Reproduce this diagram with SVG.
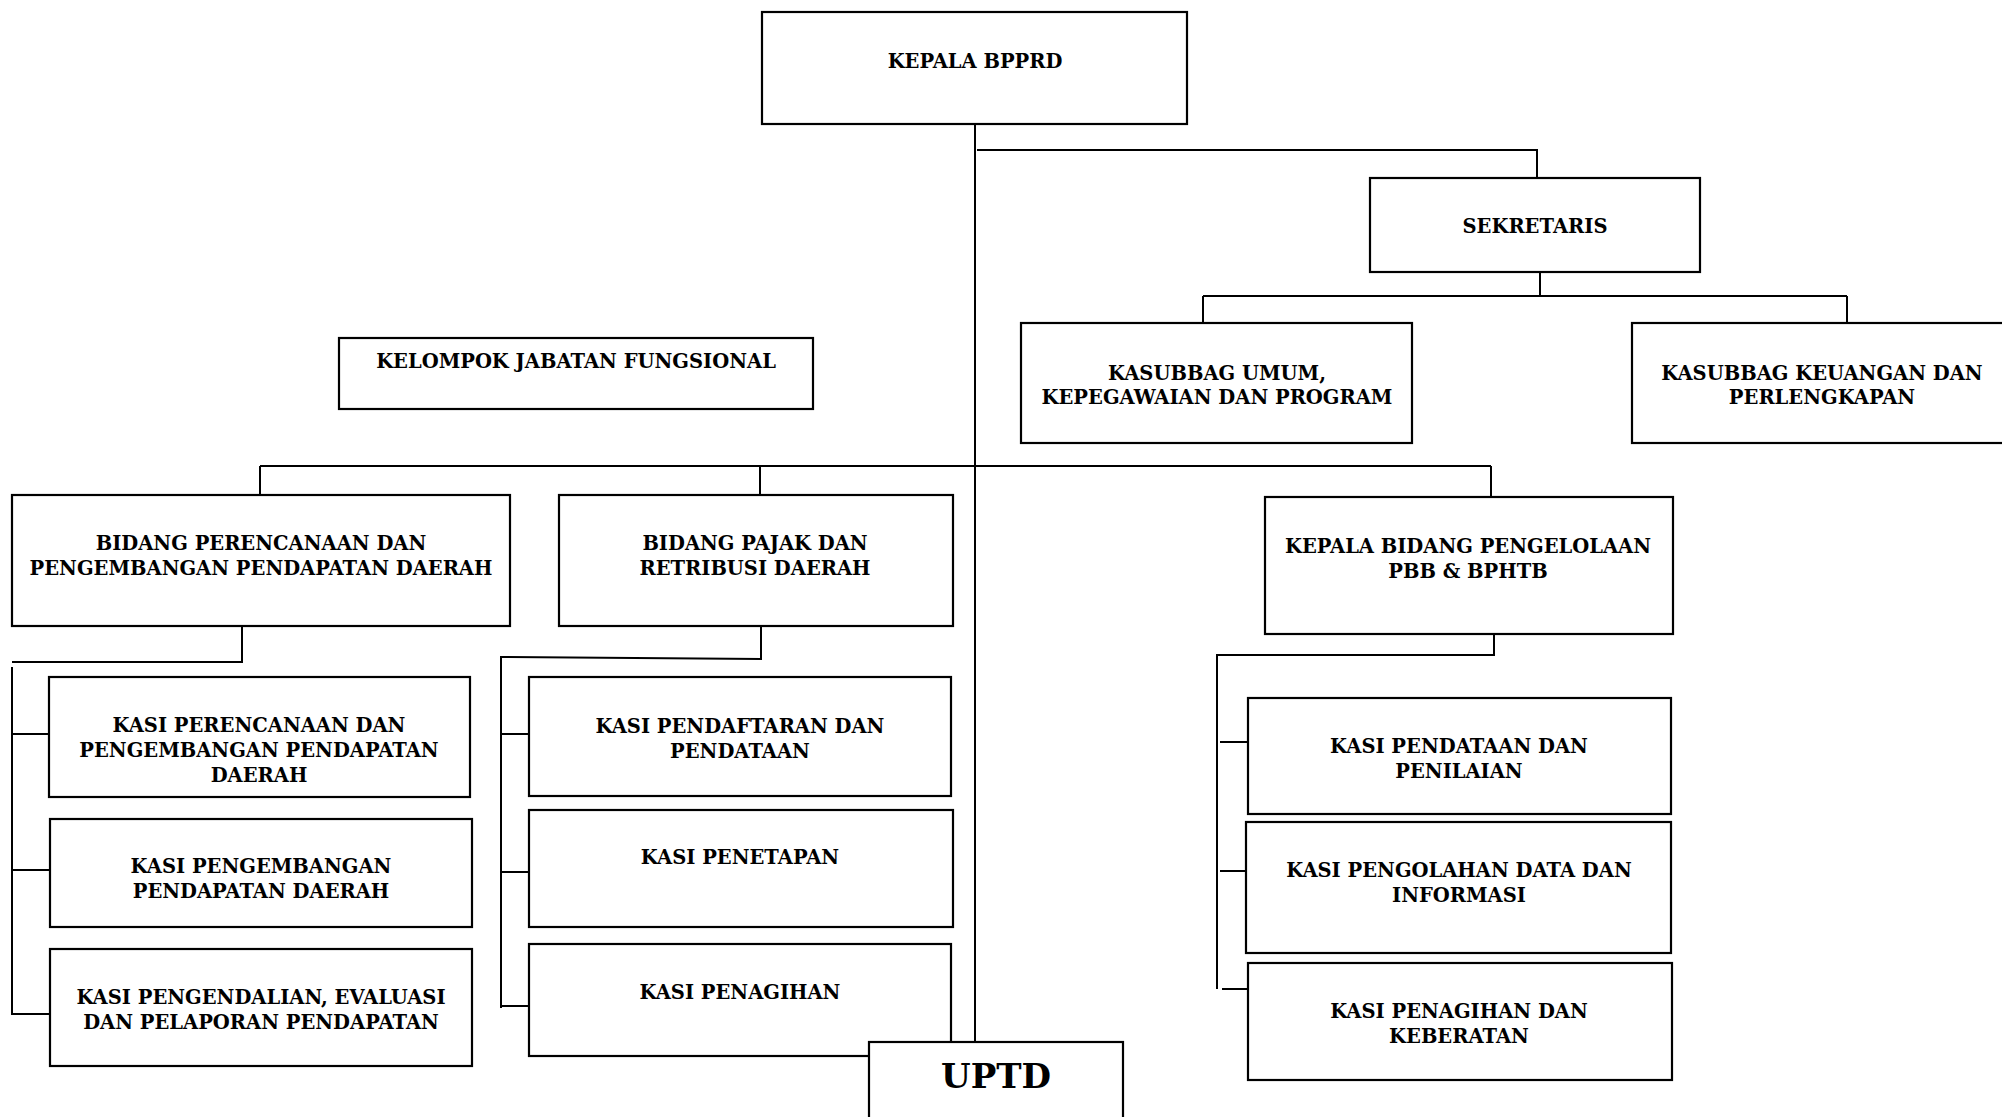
<svg xmlns="http://www.w3.org/2000/svg" width="2002" height="1117" viewBox="0 0 2002 1117">
<style>
  .box { fill: #ffffff; stroke: #000000; stroke-width: 2.2; }
  .ln { fill: none; stroke: #000000; stroke-width: 2; }
  text { font-family: "DejaVu Serif", "Liberation Serif", serif; font-weight: bold; font-size: 19.5px; fill: #000000; text-anchor: middle; }
  .big { font-size: 34px; }
</style>
<rect x="0" y="0" width="2002" height="1117" fill="#ffffff"/>
<g id="connectors">
  <path class="ln" d="M975,124 V1043"/>
  <path class="ln" d="M977,150 H1537 V179"/>
  <path class="ln" d="M1540,272 V296 M1203,296 H1847 M1203,296 V323 M1847,296 V323"/>
  <path class="ln" d="M260,466 H1491 M260,466 V495 M760,466 V495 M1491,466 V498"/>
  <path class="ln" d="M242,626 V662 H12 M12,667 V1015 M12,734 H49 M12,870 H50 M12,1014 H50"/>
  <path class="ln" d="M761,626 V659 L501,657 V1008 M501,734 H529 M501,872 H529 M501,1006 H529"/>
  <path class="ln" d="M1494,634 V655 H1217 V989 M1220,742 H1247 M1220,871 H1246 M1222,989 H1248"/>
</g>
<g id="kepala-bpprd">
  <rect class="box" x="762" y="12" width="425" height="112"/>
  <text x="975" y="68">KEPALA BPPRD</text>
</g>
<g id="sekretaris">
  <rect class="box" x="1370" y="178" width="330" height="94"/>
  <text x="1535" y="233">SEKRETARIS</text>
</g>
<g id="kasubbag-umum">
  <rect class="box" x="1021" y="323" width="391" height="120"/>
  <text x="1217" y="380">KASUBBAG UMUM,</text>
  <text x="1217" y="404">KEPEGAWAIAN DAN PROGRAM</text>
</g>
<g id="kasubbag-keuangan">
  <rect class="box" x="1632" y="323" width="380" height="120"/>
  <text x="1822" y="380">KASUBBAG KEUANGAN DAN</text>
  <text x="1822" y="404">PERLENGKAPAN</text>
</g>
<g id="kelompok-jabatan-fungsional">
  <rect class="box" x="339" y="338" width="474" height="71"/>
  <text x="576" y="368">KELOMPOK JABATAN FUNGSIONAL</text>
</g>
<g id="bidang-perencanaan">
  <rect class="box" x="12" y="495" width="498" height="131"/>
  <text x="261" y="550">BIDANG PERENCANAAN DAN</text>
  <text x="261" y="575">PENGEMBANGAN PENDAPATAN DAERAH</text>
</g>
<g id="bidang-pajak">
  <rect class="box" x="559" y="495" width="394" height="131"/>
  <text x="755" y="550">BIDANG PAJAK DAN</text>
  <text x="755" y="575">RETRIBUSI DAERAH</text>
</g>
<g id="kepala-bidang-pengelolaan">
  <rect class="box" x="1265" y="497" width="408" height="137"/>
  <text x="1468" y="553">KEPALA BIDANG PENGELOLAAN</text>
  <text x="1468" y="578">PBB &amp; BPHTB</text>
</g>
<g id="kasi-perencanaan">
  <rect class="box" x="49" y="677" width="421" height="120"/>
  <text x="259" y="732">KASI PERENCANAAN DAN</text>
  <text x="259" y="757">PENGEMBANGAN PENDAPATAN</text>
  <text x="259" y="782">DAERAH</text>
</g>
<g id="kasi-pengembangan">
  <rect class="box" x="50" y="819" width="422" height="108"/>
  <text x="261" y="873">KASI PENGEMBANGAN</text>
  <text x="261" y="898">PENDAPATAN DAERAH</text>
</g>
<g id="kasi-pengendalian">
  <rect class="box" x="50" y="949" width="422" height="117"/>
  <text x="261" y="1004">KASI PENGENDALIAN, EVALUASI</text>
  <text x="261" y="1029">DAN PELAPORAN PENDAPATAN</text>
</g>
<g id="kasi-pendaftaran">
  <rect class="box" x="529" y="677" width="422" height="119"/>
  <text x="740" y="733">KASI PENDAFTARAN DAN</text>
  <text x="740" y="758">PENDATAAN</text>
</g>
<g id="kasi-penetapan">
  <rect class="box" x="529" y="810" width="424" height="117"/>
  <text x="740" y="864">KASI PENETAPAN</text>
</g>
<g id="kasi-penagihan">
  <rect class="box" x="529" y="944" width="422" height="112"/>
  <text x="740" y="999">KASI PENAGIHAN</text>
</g>
<g id="kasi-pendataan">
  <rect class="box" x="1248" y="698" width="423" height="116"/>
  <text x="1459" y="753">KASI PENDATAAN DAN</text>
  <text x="1459" y="778">PENILAIAN</text>
</g>
<g id="kasi-pengolahan">
  <rect class="box" x="1246" y="822" width="425" height="131"/>
  <text x="1459" y="877">KASI PENGOLAHAN DATA DAN</text>
  <text x="1459" y="902">INFORMASI</text>
</g>
<g id="kasi-penagihan-keberatan">
  <rect class="box" x="1248" y="963" width="424" height="117"/>
  <text x="1459" y="1018">KASI PENAGIHAN DAN</text>
  <text x="1459" y="1043">KEBERATAN</text>
</g>
<g id="uptd">
  <rect class="box" x="869" y="1042" width="254" height="90"/>
  <text class="big" x="996" y="1088">UPTD</text>
</g>
</svg>
